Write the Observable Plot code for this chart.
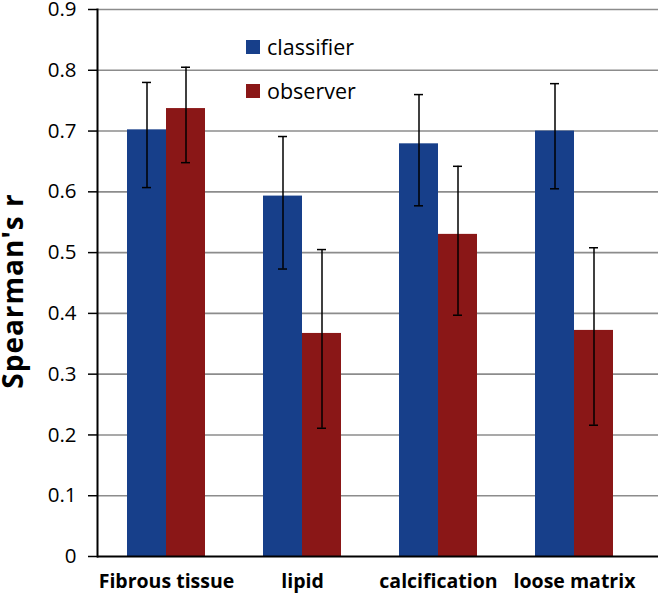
<!DOCTYPE html>
<html>
<head>
<meta charset="utf-8">
<script src="https://cdn.jsdelivr.net/npm/d3@7"></script>
<script src="https://cdn.jsdelivr.net/npm/@observablehq/plot@0.6"></script>
<style>
  html, body { margin: 0; padding: 0; background: #fff; }
  #wrap { position: relative; width: 661px; height: 595px; font-family: "Open Sans", sans-serif; }
  #wrap svg { overflow: visible; }
  .legend { position: absolute; left: 246px; font-size: 21.5px; line-height: 24px; color: #000; display: flex; align-items: center; }
  .legend span.sw { display: inline-block; width: 14px; height: 14px; margin-right: 7px; }
</style>
</head>
<body>
<div id="wrap"></div>
<script>
const categories = ["Fibrous tissue", "lipid", "calcification", "loose matrix"];
const series = ["classifier", "observer"];
const classifier = [0.702, 0.593, 0.679, 0.700];
const classifierLo = [0.607, 0.473, 0.577, 0.605];
const classifierHi = [0.780, 0.691, 0.760, 0.778];
const observer = [0.737, 0.367, 0.530, 0.372];
const observerLo = [0.648, 0.211, 0.397, 0.216];
const observerHi = [0.805, 0.505, 0.642, 0.508];
const yTicks = [0, 0.1, 0.2, 0.3, 0.4, 0.5, 0.6, 0.7, 0.8, 0.9];
const colors = ["#173f8a", "#8a1717"];

const rowsC = categories.map((c, i) => ({cat: c, v: classifier[i], lo: classifierLo[i], hi: classifierHi[i]}));
const rowsO = categories.map((c, i) => ({cat: c, v: observer[i], lo: observerLo[i], hi: observerHi[i]}));

const half = 39;
const capL = half / 2 - 4.5, capR = 78 - half / 2 - 4.5;
const chart = Plot.plot({
  width: 661,
  height: 595,
  marginLeft: 97,
  marginRight: 3,
  marginTop: 9,
  marginBottom: 39,
  style: {fontFamily: "'Open Sans', sans-serif", background: "#fff", overflow: "visible"},
  x: {domain: categories, range: [98, 642], paddingInner: 0.4265, paddingOuter: 0.2132, label: null},
  y: {domain: [0, 0.9], label: null},
  marks: [
    Plot.ruleY(yTicks.slice(1), {stroke: "#8c8c8c", strokeWidth: 1.6}),
    Plot.barY(rowsC, {x: "cat", y: "v", fill: colors[0], insetRight: half}),
    Plot.barY(rowsO, {x: "cat", y: "v", fill: colors[1], insetLeft: half}),
    Plot.ruleX(rowsC, {x: "cat", y1: "lo", y2: "hi", dx: -half / 2, stroke: "#000", strokeWidth: 1.5}),
    Plot.ruleX(rowsO, {x: "cat", y1: "lo", y2: "hi", dx: half / 2, stroke: "#000", strokeWidth: 1.5}),
    Plot.tickY(rowsC, {x: "cat", y: "lo", insetLeft: capL, insetRight: capR, stroke: "#000", strokeWidth: 1.5}),
    Plot.tickY(rowsC, {x: "cat", y: "hi", insetLeft: capL, insetRight: capR, stroke: "#000", strokeWidth: 1.5}),
    Plot.tickY(rowsO, {x: "cat", y: "lo", insetLeft: capR, insetRight: capL, stroke: "#000", strokeWidth: 1.5}),
    Plot.tickY(rowsO, {x: "cat", y: "hi", insetLeft: capR, insetRight: capL, stroke: "#000", strokeWidth: 1.5}),
    Plot.axisY({ticks: yTicks, tickFormat: d => d === 0 ? "0" : d3.format(".1f")(d), tickSize: 9, tickPadding: 12, fontSize: 20.5, stroke: "#000", strokeWidth: 1.5, label: null}),
    Plot.axisX({tickSize: 0, tickPadding: 18, fontSize: 19.5, fontWeight: "bold", label: null}),
    Plot.ruleY([0], {stroke: "#000", strokeWidth: 2}),
    Plot.frame({anchor: "left", stroke: "#000", strokeWidth: 2})
  ]
});
const wrap = document.getElementById("wrap");
wrap.appendChild(chart);

// y title
const svg = d3.select(chart);
svg.append("text")
  .attr("transform", "translate(23,291) rotate(-90)")
  .attr("text-anchor", "middle")
  .style("font-size", "28px")
  .style("letter-spacing", "1px")
  .style("font-weight", "bold")
  .style("font-family", "'Open Sans', sans-serif")
  .text("Spearman's r");

series.forEach((s, i) => {
  const d = document.createElement("div");
  d.className = "legend";
  d.style.top = (35 + i * 44) + "px";
  d.innerHTML = `<span class="sw" style="background:${colors[i]}"></span>${s}`;
  wrap.appendChild(d);
});
</script>
</body>
</html>
